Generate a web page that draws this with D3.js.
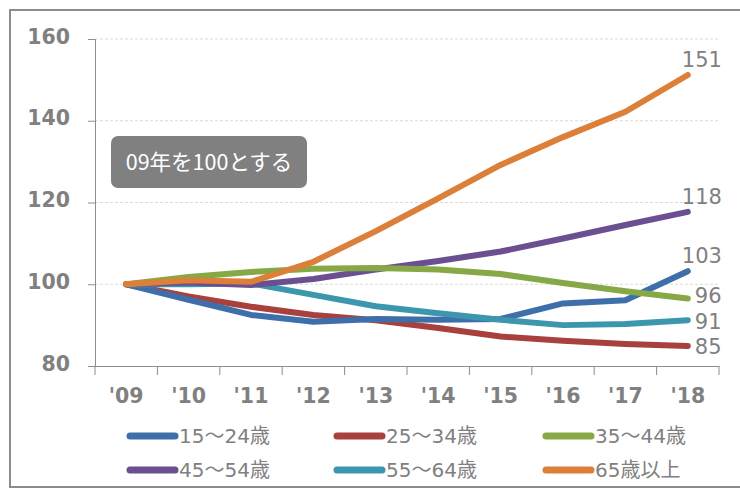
<!DOCTYPE html>
<html>
<head>
<meta charset="utf-8">
<script src="https://cdn.jsdelivr.net/npm/d3@7"></script>
<style>
  body { margin: 0; background: #fff; }
  svg { display: block; }
</style>
</head>
<body>
<div id="chart"></div>
<script>
// data (2009 = 100)
var years = ["'09", "'10", "'11", "'12", "'13", "'14", "'15", "'16", "'17", "'18"];
var seriesNames = ["15〜24歳", "25〜34歳", "35〜44歳", "45〜54歳", "55〜64歳", "65歳以上"];
var age15_24 = [100, 96.2, 92.5, 90.8, 91.5, 91.3, 91.5, 95.3, 96.1, 103.2];
var age25_34 = [100, 97, 94.5, 92.5, 91.2, 89.3, 87.2, 86.2, 85.4, 84.9];
var age35_44 = [100, 101.8, 103, 103.8, 104, 103.6, 102.5, 100.3, 98.3, 96.5];
var age45_54 = [100, 100.4, 99.8, 101.3, 103.6, 105.7, 108, 111.2, 114.5, 117.7];
var age55_64 = [100, 100, 100.2, 97.4, 94.6, 92.9, 91.3, 90, 90.3, 91.2];
var age65up  = [100, 101, 100.6, 105.5, 113, 121, 129.2, 136, 142.2, 151.2];
var endLabels = ["103", "85", "96", "118", "91", "151"];
var yTicks = [80, 100, 120, 140, 160];

var colors = ["#3f6faa", "#a8403e", "#87a846", "#6c4f90", "#3c97ae", "#dc7f38"];
var allSeries = [age15_24, age25_34, age35_44, age45_54, age55_64, age65up];

var W = 740, H = 489;
var margin = {top: 39, right: 21, bottom: 123, left: 95},
    width = W - margin.left - margin.right,
    height = H - margin.top - margin.bottom;

var root = d3.select("#chart").append("svg")
    .attr("width", W)
    .attr("height", H);

// outer frame
root.append("rect")
    .attr("x", 10).attr("y", 10)
    .attr("width", 760).attr("height", 477)
    .attr("fill", "none")
    .attr("stroke", "#8c8c8c")
    .attr("stroke-width", 2);

var svg = root.append("g")
    .attr("transform", "translate(" + margin.left + "," + margin.top + ")");

var x = d3.scaleBand()
    .domain(years)
    .range([0, width]);

var y = d3.scaleLinear()
    .domain([80, 160])
    .range([height, 0]);

// gridlines
svg.selectAll(".grid")
  .data(yTicks.slice(1))
  .enter()
  .append("line")
    .attr("x1", 0)
    .attr("x2", width)
    .attr("y1", function(d) { return y(d); })
    .attr("y2", function(d) { return y(d); })
    .attr("stroke", "#d9d9d9")
    .attr("stroke-dasharray", "3,2");

// Y axis
var yAxis = svg.append("g")
    .call(d3.axisLeft(y).tickValues(yTicks).tickSize(7).tickPadding(18));
yAxis.select(".domain").attr("stroke", "#8c8c8c");
yAxis.selectAll(".tick line").attr("stroke", "#8c8c8c");
yAxis.selectAll("text")
    .attr("dy", "0.2em")
    .style("font-family", "DejaVu Sans")
    .style("font-weight", "bold")
    .style("font-size", "20.5px")
    .attr("fill", "#808080");

// X axis, ticks on band edges
var xAxis = svg.append("g")
    .attr("transform", "translate(0," + height + ")")
    .call(d3.axisBottom(x).tickSize(0).tickPadding(22));
xAxis.select(".domain").attr("stroke", "#8c8c8c");
xAxis.selectAll("text")
    .style("font-family", "DejaVu Sans")
    .style("font-weight", "bold")
    .style("font-size", "20.5px")
    .attr("fill", "#808080");
svg.selectAll(".xtick")
  .data(years.concat(["end"]))
  .enter()
  .append("line")
    .attr("x1", function(d, i) { return i * x.bandwidth(); })
    .attr("x2", function(d, i) { return i * x.bandwidth(); })
    .attr("y1", height)
    .attr("y2", height + 9)
    .attr("stroke", "#8c8c8c");

// lines
var line = d3.line()
    .x(function(d, i) { return x(years[i]) + x.bandwidth() / 2; })
    .y(function(d) { return y(d); });

var drawOrder = [1, 0, 4, 3, 2, 5];
drawOrder.forEach(function(k) {
  svg.append("path")
      .datum(allSeries[k])
      .attr("d", line)
      .attr("fill", "none")
      .attr("stroke", colors[k])
      .attr("stroke-width", 6)
      .attr("stroke-linecap", "round")
      .attr("stroke-linejoin", "round");
});

// end labels (96 nudged up, 91 down a touch so they don't collide)
var nudge = [0, 0, -3, 0, 1, 0];
var lastX = x(years[years.length - 1]) + x.bandwidth() / 2;
allSeries.forEach(function(s, k) {
  var v = s[s.length - 1];
  var above = v > 100;
  svg.append("text")
      .attr("x", above ? lastX - 6 : lastX + 7)
      .attr("y", above ? y(v) - 8 : y(v) + nudge[k])
      .attr("dy", above ? "0" : "0.36em")
      .style("font-family", "DejaVu Sans")
      .style("font-size", "21px")
      .attr("fill", "#808080")
      .text(endLabels[k]);
});

// note box
var note = svg.append("g").attr("transform", "translate(16,97)");
note.append("rect")
    .attr("width", 196).attr("height", 52)
    .attr("rx", 7)
    .attr("fill", "#808080");
note.append("text")
    .attr("x", 98).attr("y", 26)
    .attr("dy", "0.35em")
    .attr("text-anchor", "middle")
    .style("font-family", "'Noto Sans CJK JP'")
    .style("font-size", "21.5px")
    .attr("fill", "#fff")
    .text("09年を100とする");

// legend
var legendX = [127, 334, 543], legendY = [436, 470];
seriesNames.forEach(function(name, k) {
  var lx = legendX[k % 3], ly = legendY[Math.floor(k / 3)];
  root.append("line")
      .attr("x1", lx + 3).attr("x2", lx + 48)
      .attr("y1", ly).attr("y2", ly)
      .attr("stroke", colors[k])
      .attr("stroke-width", 7)
      .attr("stroke-linecap", "round");
  root.append("text")
      .attr("x", lx + 52).attr("y", ly)
      .attr("dy", "0.36em")
      .style("font-family", "'DejaVu Sans', 'Noto Sans CJK JP'")
      .style("font-size", "20px")
      .attr("fill", "#808080")
      .text(name);
});
</script>
</body>
</html>
